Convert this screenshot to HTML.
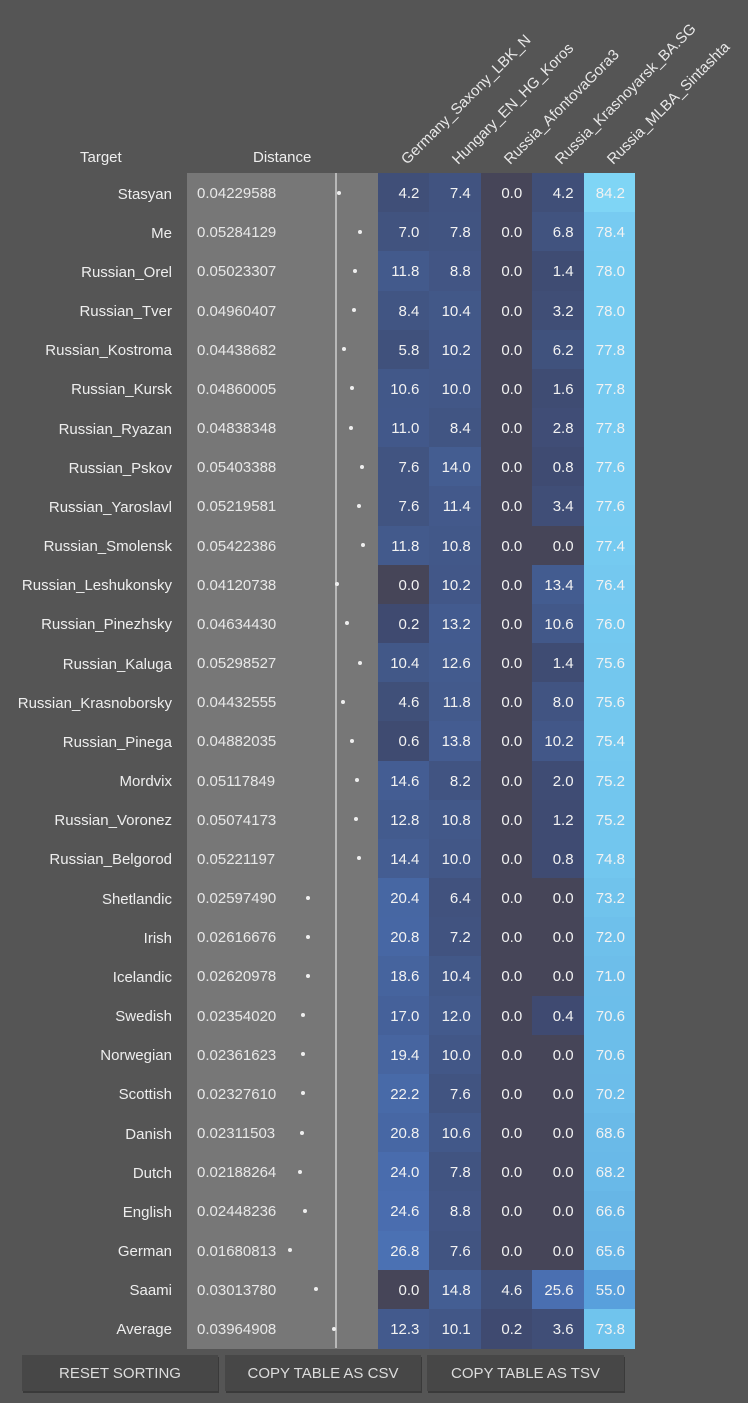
<!DOCTYPE html>
<html><head><meta charset="utf-8">
<style>
body{margin:0;width:748px;height:1403px;background:#555555;font-family:"Liberation Sans",sans-serif;overflow:hidden;position:relative;color:#e6e6e6}
.abs{position:absolute}
.tl{position:absolute;right:576px;width:200px;text-align:right;font-size:15px;color:#eee}
.dcell{position:absolute;left:187px;width:191px;background:#777;font-size:15px;color:#e8e8e8}
.hc{position:absolute;width:51.4px;text-align:right;font-size:15px;color:#f2f2f2;box-sizing:border-box;padding-right:10px}
.hdr{position:absolute;font-size:15px;color:#e8e8e8;transform-origin:0 100%;transform:rotate(-45deg);white-space:nowrap}
.btn{position:absolute;top:1355px;height:36px;background:#474747;box-shadow:1px 2px 0 #3a3a3a;color:#ddd;font-size:15px;text-align:center;line-height:38px}
</style></head><body>
<div class="abs" style="left:80px;top:149px;font-size:15px;color:#eee">Target</div>
<div class="abs" style="left:253px;top:149px;font-size:15px;color:#eee">Distance</div>
<div id="root"></div>
<div class="btn" style="left:22px;width:196px">RESET SORTING</div>
<div class="btn" style="left:225px;width:196px">COPY TABLE AS CSV</div>
<div class="btn" style="left:427px;width:197px">COPY TABLE AS TSV</div>
<script>
const columns=["Germany_Saxony_LBK_N","Hungary_EN_HG_Koros","Russia_AfontovaGora3","Russia_Krasnoyarsk_BA.SG","Russia_MLBA_Sintashta"];
const targets=["Stasyan","Me","Russian_Orel","Russian_Tver","Russian_Kostroma","Russian_Kursk","Russian_Ryazan","Russian_Pskov","Russian_Yaroslavl","Russian_Smolensk","Russian_Leshukonsky","Russian_Pinezhsky","Russian_Kaluga","Russian_Krasnoborsky","Russian_Pinega","Mordvix","Russian_Voronez","Russian_Belgorod","Shetlandic","Irish","Icelandic","Swedish","Norwegian","Scottish","Danish","Dutch","English","German","Saami","Average"];
const distances=["0.04229588","0.05284129","0.05023307","0.04960407","0.04438682","0.04860005","0.04838348","0.05403388","0.05219581","0.05422386","0.04120738","0.04634430","0.05298527","0.04432555","0.04882035","0.05117849","0.05074173","0.05221197","0.02597490","0.02616676","0.02620978","0.02354020","0.02361623","0.02327610","0.02311503","0.02188264","0.02448236","0.01680813","0.03013780","0.03964908"];
const germany=[4.2,7.0,11.8,8.4,5.8,10.6,11.0,7.6,7.6,11.8,0.0,0.2,10.4,4.6,0.6,14.6,12.8,14.4,20.4,20.8,18.6,17.0,19.4,22.2,20.8,24.0,24.6,26.8,0.0,12.3];
const hungary=[7.4,7.8,8.8,10.4,10.2,10.0,8.4,14.0,11.4,10.8,10.2,13.2,12.6,11.8,13.8,8.2,10.8,10.0,6.4,7.2,10.4,12.0,10.0,7.6,10.6,7.8,8.8,7.6,14.8,10.1];
const afontova=[0,0,0,0,0,0,0,0,0,0,0,0,0,0,0,0,0,0,0,0,0,0,0,0,0,0,0,0,4.6,0.2];
const krasnoyarsk=[4.2,6.8,1.4,3.2,6.2,1.6,2.8,0.8,3.4,0.0,13.4,10.6,1.4,8.0,10.2,2.0,1.2,0.8,0,0,0,0.4,0,0,0,0,0,0,25.6,3.6];
const sintashta=[84.2,78.4,78.0,78.0,77.8,77.8,77.8,77.6,77.6,77.4,76.4,76.0,75.6,75.6,75.4,75.2,75.2,74.8,73.2,72.0,71.0,70.6,70.6,70.2,68.6,68.2,66.6,65.6,55.0,73.8];
const series=[germany,hungary,afontova,krasnoyarsk,sintashta];
const top0=173,rowH=39.17,colX0=378,colW=51.4;
const distX=d=>257.3+d*1943;
const stops=[[0,[63,74,112]],[5,[64,80,122]],[15,[68,94,148]],[25,[74,110,176]],[55,[88,160,220]],[75,[114,198,238]],[85,[128,214,246]]];
function color(v){if(v===0)return "rgb(70,69,88)";for(let i=1;i<stops.length;i++){if(v<=stops[i][0]){const a=stops[i-1],b=stops[i],t=(v-a[0])/(b[0]-a[0]);return "rgb("+a[1].map((c,k)=>Math.round(c+(b[1][k]-c)*t)).join(",")+")";}}return "rgb(128,214,246)";}
const root=document.getElementById('root');
columns.forEach((c,j)=>{const h=document.createElement('div');h.className='hdr';h.textContent=c;


h.style.left=(colX0+j*colW+32)+'px';h.style.top=(151)+'px';root.appendChild(h);});
const line=document.createElement('div');


line.style.cssText='position:absolute;left:335px;width:2px;background:#b8b8b8;z-index:2;top:'+top0+'px;height:'+(rowH*targets.length)+'px';
root.appendChild(line);
targets.forEach((t,i)=>{const y=top0+i*rowH;
const l=document.createElement('div');l.className='tl';l.textContent=t;


l.style.top=(y+1.5)+'px';l.style.lineHeight=rowH+'px';root.appendChild(l);
const d=document.createElement('div');d.className='dcell';


d.style.top=y+'px';d.style.height=(rowH+0.5)+'px';d.style.lineHeight=(rowH+3)+'px';
d.innerHTML='<span style="position:absolute;left:10px">'+distances[i]+'</span>';root.appendChild(d);
const dot=document.createElement('div');


dot.style.cssText='position:absolute;width:4px;height:4px;border-radius:50%;background:#eee;z-index:3;left:'+(distX(parseFloat(distances[i]))-2)+'px;top:'+(y+rowH/2-2)+'px';root.appendChild(dot);
series.forEach((s,j)=>{const c=document.createElement('div');c.className='hc';


c.style.left=(colX0+j*colW)+'px';c.style.top=y+'px';c.style.height=(rowH+0.5)+'px';c.style.lineHeight=(rowH+3)+'px';c.style.background=color(s[i]);c.textContent=s[i].toFixed(1);root.appendChild(c);});
});
</script>
</body></html>
